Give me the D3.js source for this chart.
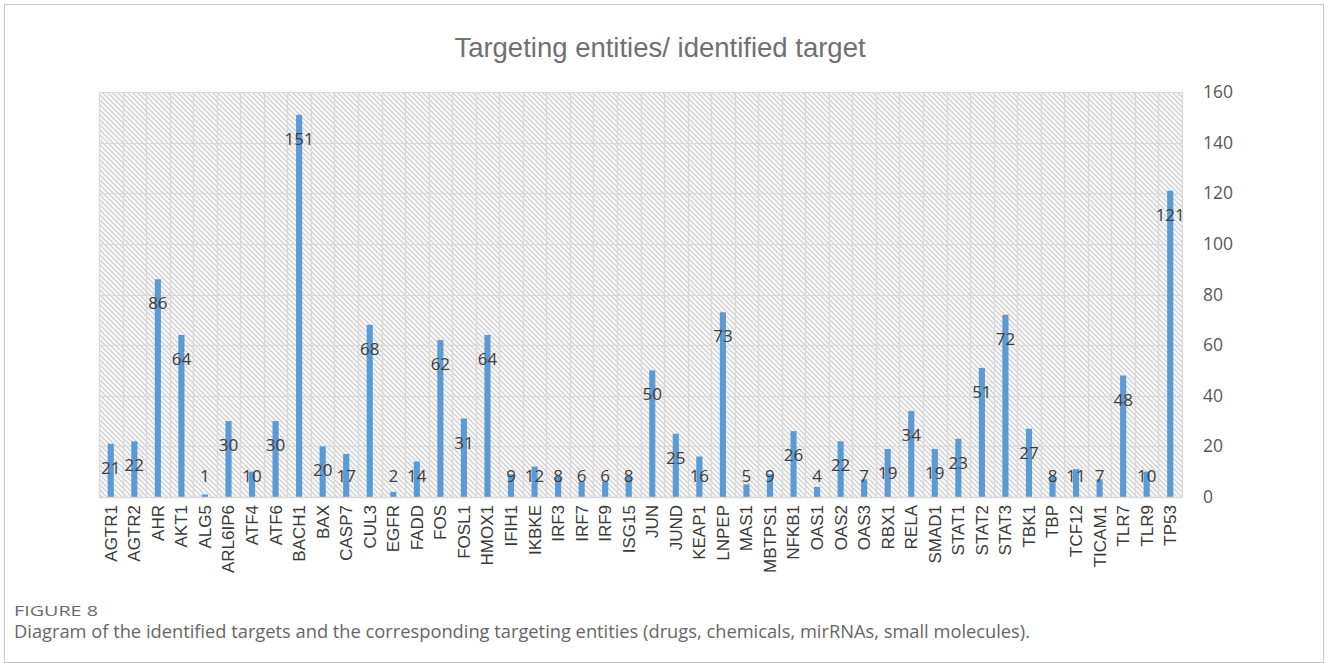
<!DOCTYPE html>
<html>
<head>
<meta charset="utf-8">
<script src="https://cdn.jsdelivr.net/npm/d3@7"></script>
<style>
  body { margin: 0; background: #fff; }
  svg { display: block; }
</style>
</head>
<body>
<div id="chart"></div>
<script>
// chart data
const targets = ["AGTR1", "AGTR2", "AHR", "AKT1", "ALG5", "ARL6IP6", "ATF4", "ATF6", "BACH1", "BAX",
  "CASP7", "CUL3", "EGFR", "FADD", "FOS", "FOSL1", "HMOX1", "IFIH1", "IKBKE", "IRF3", "IRF7", "IRF9",
  "ISG15", "JUN", "JUND", "KEAP1", "LNPEP", "MAS1", "MBTPS1", "NFKB1", "OAS1", "OAS2", "OAS3", "RBX1",
  "RELA", "SMAD1", "STAT1", "STAT2", "STAT3", "TBK1", "TBP", "TCF12", "TICAM1", "TLR7", "TLR9", "TP53"];
const counts = [21, 22, 86, 64, 1, 30, 10, 30, 151, 20,
  17, 68, 2, 14, 62, 31, 64, 9, 12, 8, 6, 6,
  8, 50, 25, 16, 73, 5, 9, 26, 4, 22, 7, 19,
  34, 19, 23, 51, 72, 27, 8, 11, 7, 48, 10, 121];
const yTicks = [0, 20, 40, 60, 80, 100, 120, 140, 160];

const chartTitle = "Targeting entities/ identified target";
const figLabel = "FIGURE 8";
const caption = "Diagram of the identified targets and the corresponding targeting entities (drugs, chemicals, mirRNAs, small molecules).";

const width = 1328, height = 667;
const plot = { left: 99, right: 1182, top: 92, bottom: 497 };

const svg = d3.select("#chart").append("svg")
    .attr("width", width)
    .attr("height", height);

// outer frame
svg.append("rect")
    .attr("x", 4.5).attr("y", 4.5)
    .attr("width", width - 9).attr("height", height - 9)
    .attr("fill", "#fff")
    .attr("stroke", "#c8c8c8");

// hatched plot background
const defs = svg.append("defs");
const pat = defs.append("pattern")
    .attr("id", "hatch")
    .attr("patternUnits", "userSpaceOnUse")
    .attr("width", 5).attr("height", 5);
pat.append("rect").attr("width", 5).attr("height", 5).attr("fill", "#f8f8f8");
pat.append("path")
    .attr("d", "M-1,-1 L6,6 M-1,4 L1,6 M4,-1 L6,1")
    .attr("stroke", "#cdcdcd")
    .attr("stroke-width", 1.2);

svg.append("rect")
    .attr("x", plot.left).attr("y", plot.top)
    .attr("width", plot.right - plot.left)
    .attr("height", plot.bottom - plot.top)
    .attr("fill", "url(#hatch)");

const x = d3.scaleBand()
    .domain(targets)
    .range([plot.left, plot.right])
    .paddingInner(0.74)
    .paddingOuter(0.37);

const xGrid = d3.scaleLinear()
    .domain([0, targets.length])
    .range([plot.left, plot.right]);

const y = d3.scaleLinear()
    .domain([0, 160])
    .range([plot.bottom, plot.top]);

// grid lines
svg.append("g")
  .selectAll("line.h")
  .data(yTicks)
  .join("line")
    .attr("x1", plot.left).attr("x2", plot.right)
    .attr("y1", d => Math.round(y(d)) + 0.5)
    .attr("y2", d => Math.round(y(d)) + 0.5)
    .attr("stroke", "#d9d9d9")
    .attr("stroke-width", 1.2);

svg.append("g")
  .selectAll("line.v")
  .data(d3.range(targets.length + 1))
  .join("line")
    .attr("x1", d => Math.round(xGrid(d)) + 0.5)
    .attr("x2", d => Math.round(xGrid(d)) + 0.5)
    .attr("y1", plot.top).attr("y2", plot.bottom)
    .attr("stroke", "#d9d9d9")
    .attr("stroke-width", 1.2);

// bars
svg.append("g")
  .selectAll("rect")
  .data(targets)
  .join("rect")
    .attr("x", d => x(d))
    .attr("width", x.bandwidth())
    .attr("y", (d, i) => y(counts[i]))
    .attr("height", (d, i) => plot.bottom - y(counts[i]))
    .attr("fill", "#5b9bd5");

// data labels
svg.append("g")
  .selectAll("text")
  .data(targets)
  .join("text")
    .attr("x", d => x(d) + x.bandwidth() / 2)
    .attr("y", (d, i) => Math.min(y(counts[i]) + 24, 476) + 6)
    .attr("text-anchor", "middle")
    .style("font-family", "'Open Sans', sans-serif")
    .style("font-size", "17px")
    .attr("fill", "#404040")
    .text((d, i) => counts[i]);

// right y axis
const yAxis = d3.axisRight(y).tickValues(yTicks).tickSize(0).tickPadding(0);
const gy = svg.append("g")
    .attr("transform", "translate(" + 1203 + ",0)")
    .call(yAxis);
gy.select(".domain").remove();
gy.selectAll("text")
    .style("font-family", "'Open Sans', sans-serif")
    .style("font-size", "17.5px")
    .attr("fill", "#595959");

// x axis line
svg.append("line")
    .attr("x1", plot.left).attr("x2", plot.right)
    .attr("y1", plot.bottom + 0.5).attr("y2", plot.bottom + 0.5)
    .attr("stroke", "#d9d9d9")
    .attr("stroke-width", 1.5);

// x labels, rotated
const xAxis = d3.axisBottom(x).tickSize(0).tickPadding(0);
const gx = svg.append("g")
    .attr("transform", "translate(0," + plot.bottom + ")")
    .call(xAxis);
gx.select(".domain").remove();
gx.selectAll("text")
    .attr("transform", "rotate(-90)")
    .attr("x", -8)
    .attr("y", 0)
    .attr("dy", "0.35em")
    .style("text-anchor", "end")
    .style("font-family", "'Liberation Sans', Arial, sans-serif")
    .style("font-size", "17px")
    .attr("fill", "#3a3a3a");

// title
svg.append("text")
    .attr("x", 660)
    .attr("y", 57)
    .attr("text-anchor", "middle")
    .style("font-family", "'Liberation Sans', Arial, sans-serif")
    .style("font-size", "27.5px")
    .attr("fill", "#707070")
    .text(chartTitle);

// figure caption
svg.append("text")
    .attr("x", 14)
    .attr("y", 616)
    .style("font-family", "'Open Sans', sans-serif")
    .style("font-size", "14px")
    .attr("fill", "#6b6b6b")
    .attr("textLength", 84)
    .attr("lengthAdjust", "spacingAndGlyphs")
    .text(figLabel);

svg.append("text")
    .attr("x", 14)
    .attr("y", 638)
    .style("font-family", "'Open Sans', sans-serif")
    .style("font-size", "18px")
    .attr("fill", "#666")
    .attr("textLength", 1016)
    .attr("lengthAdjust", "spacingAndGlyphs")
    .text(caption);
</script>
</body>
</html>
